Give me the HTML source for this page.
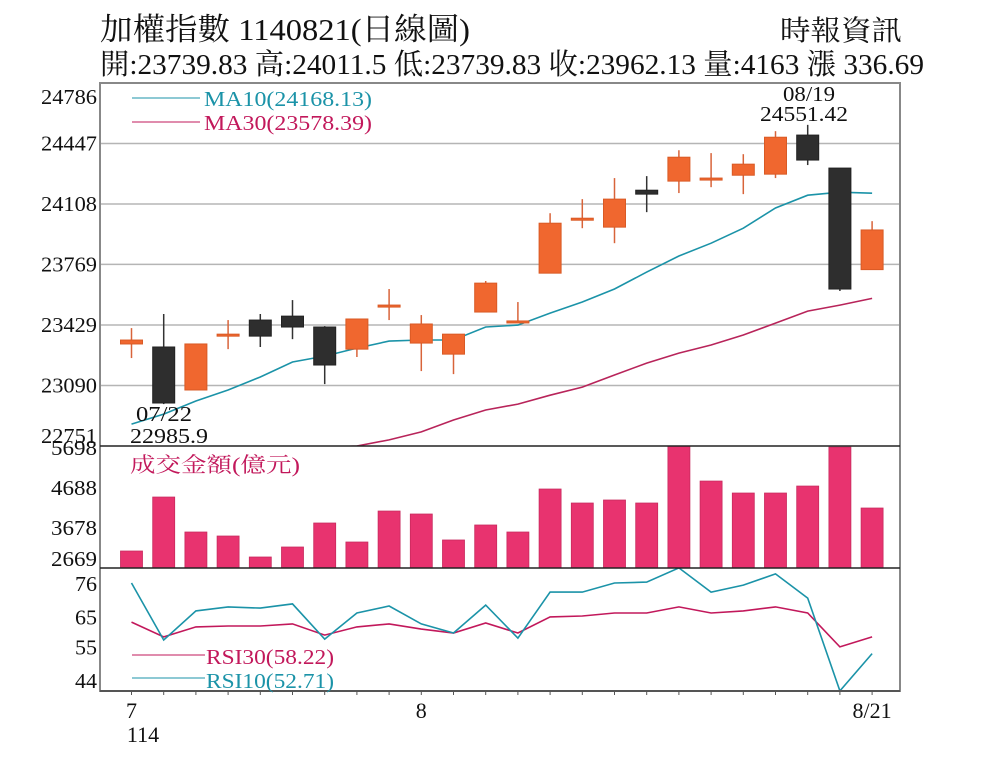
<!DOCTYPE html>
<html><head><meta charset="utf-8"><style>
html,body{margin:0;padding:0;background:#fff;}
svg{display:block;font-family:"Liberation Serif","Noto Serif CJK SC","Noto Sans CJK TC",serif;}
</style></head><body>
<svg id="chart" width="1000" height="770" viewBox="0 0 1000 770" xmlns="http://www.w3.org/2000/svg">
<rect width="1000" height="770" fill="#fff"/>
<text x="100" y="40" font-size="31" textLength="370" lengthAdjust="spacingAndGlyphs" fill="#111">加權指數 1140821(日線圖)</text>
<text x="780" y="40" font-size="28" textLength="122" lengthAdjust="spacingAndGlyphs" fill="#111">時報資訊</text>
<text x="100" y="74" font-size="29" textLength="824" lengthAdjust="spacingAndGlyphs" fill="#111">開:23739.83 高:24011.5 低:23739.83 收:23962.13 量:4163 漲 336.69</text>
<g id="grid"></g>
<g id="marks"></g>
<g id="axes"></g>
<g id="legend">
 <line x1="132" y1="98" x2="200" y2="98" stroke="#1b93a8" stroke-width="1"/>
 <text x="204" y="106" font-size="21" fill="#1b93a8" textLength="168" lengthAdjust="spacingAndGlyphs">MA10(24168.13)</text>
 <line x1="132" y1="122" x2="200" y2="122" stroke="#c2185b" stroke-width="1"/>
 <text x="204" y="130" font-size="21" fill="#c2185b" textLength="168" lengthAdjust="spacingAndGlyphs">MA30(23578.39)</text>
 <text x="130" y="472" font-size="21" fill="#c2185b" textLength="170" lengthAdjust="spacingAndGlyphs">成交金額(億元)</text>
 <line x1="132" y1="655" x2="205" y2="655" stroke="#c2185b" stroke-width="1"/>
 <text x="206" y="664" font-size="21" fill="#c2185b" textLength="128" lengthAdjust="spacingAndGlyphs">RSI30(58.22)</text>
 <line x1="132" y1="678" x2="205" y2="678" stroke="#1b93a8" stroke-width="1"/>
 <text x="206" y="688" font-size="21" fill="#1b93a8" textLength="128" lengthAdjust="spacingAndGlyphs">RSI10(52.71)</text>
 <text x="136" y="421" font-size="21" fill="#111" textLength="56" lengthAdjust="spacingAndGlyphs">07/22</text>
 <text x="130" y="443" font-size="21" fill="#111" textLength="78" lengthAdjust="spacingAndGlyphs">22985.9</text>
 <text x="783" y="101" font-size="21" fill="#111" textLength="52" lengthAdjust="spacingAndGlyphs">08/19</text>
 <text x="760" y="121" font-size="21" fill="#111" textLength="88" lengthAdjust="spacingAndGlyphs">24551.42</text>
</g>
</svg>
<script>
const dates=["07/08","07/09","07/10","07/11","07/14","07/15","07/16","07/17","07/18","07/21","07/22","07/23","07/24","07/25","07/28","07/29","07/30","07/31","08/01","08/04","08/05","08/06","08/07","08/08"];
const opens=[23323,23306,23065,23378,23457,23479,23418,23294,23530,23328,23266,23502,23452,23720,24028,23978,24185,24236,24253,24269,24275,24494,24309,23739.83];
const highs=[23412,23491,23323,23457,23491,23569,23423,23463,23631,23485,23378,23676,23558,24056,24135,24253,24264,24409,24393,24387,24516,24551.42,24309,24011.5];
const lows=[23244,22985.9,23065,23294,23306,23350,23098,23250,23457,23171,23154,23502,23452,23720,23972,23888,24062,24169,24202,24163,24253,24326,23620,23739.83];
const closes=[23345,22992,23323,23378,23367,23418,23205,23463,23541,23435,23378,23664,23452,24000,24028,24135,24163,24370,24253,24331,24482,24354,23631,23962.13];
const ma10=[22874,22930,23003,23065,23138,23222,23255,23300,23339,23345,23345,23418,23429,23496,23558,23631,23726,23816,23888,23972,24085,24157,24174,24168.13];
const ma30=[22600,22630,22660,22690,22710,22730,22745,22751,22785,22830,22897,22953,22986,23036,23081,23149,23216,23272,23317,23373,23440,23507,23541,23578.39];
const volumes=[3073,4434,3552,3451,2922,3174,3779,3300,4081,4006,3351,3729,3552,4636,4283,4359,4283,5745,4837,4535,4535,4711,5694,4157];
const rsi10=[76,57.2,66.8,68.1,67.7,69.1,57.5,66.1,68.4,62.5,59.5,68.7,57.8,73,73,76,76.3,81,73,75.3,79,71,40.4,52.71];
const rsi30=[63.1,58.2,61.5,61.8,61.8,62.5,58.8,61.5,62.5,60.8,59.5,62.8,59.5,64.8,65.1,66.1,66.1,68.1,66.1,66.8,68.1,66.1,54.9,58.22];
const priceTicks=[24786,24447,24108,23769,23429,23090,22751];
const volTicks=[5698,4688,3678,2669];
const rsiTicks=[76,65,55,44];
const xLabels=[{i:0,t:"7"},{i:9,t:"8"},{i:23,t:"8/21"}];

const NS="http://www.w3.org/2000/svg";
const L=100,R=900;
const P={top:83,bot:446,min:22751,max:24786};
const V={top:446,bot:568,min:2645,max:5721};
const S={top:568,bot:691,min:35.4,max:76+(583-568)/3.03};
function xOf(i){return 131.5+i*32.2;}
function yP(v){return P.bot-(v-P.min)/(P.max-P.min)*(P.bot-P.top);}
function yV(v){return V.bot-(v-V.min)/(V.max-V.min)*(V.bot-V.top);}
function yR(v){return 583+(76-v)*3.03;}
function mk(tag,attrs,parent){const e=document.createElementNS(NS,tag);for(const k in attrs)e.setAttribute(k,attrs[k]);parent.appendChild(e);return e;}
const grid=document.getElementById('grid'),marks=document.getElementById('marks'),axes=document.getElementById('axes');

// price gridlines and labels
priceTicks.forEach((v,k)=>{
  const y=yP(v);
  if(k>0&&k<priceTicks.length-1){const g=mk('line',{x1:L,x2:R,y1:y,y2:y,stroke:'#b5b5b5','stroke-width':1.5},grid);
  
  }
  let by=y+7; if(k===0)by=y+21; if(k===priceTicks.length-1)by=y-3;
  const t=mk('text',{x:97,y:by,'font-size':21,'text-anchor':'end',fill:'#111',textLength:56,lengthAdjust:'spacingAndGlyphs'},axes);t.textContent=v;
  
  
});
volTicks.forEach((v,k)=>{
  const y=yV(v);
  let by=y+8; if(k===volTicks.length-1)by=Math.min(by,566);
  const t=mk('text',{x:97,y:by,'font-size':21,'text-anchor':'end',fill:'#111',textLength:46,lengthAdjust:'spacingAndGlyphs'},axes);t.textContent=v;
  
  
});
rsiTicks.forEach(v=>{
  const y=yR(v);
  const t=mk('text',{x:97,y:y+8,'font-size':21,'text-anchor':'end',fill:'#111',textLength:22,lengthAdjust:'spacingAndGlyphs'},axes);t.textContent=v;
  
  
});

// clip for price panel
const defs=mk('defs',{},marks);
const cp=mk('clipPath',{id:'pclip'},defs);mk('rect',{x:L,y:P.top,width:R-L,height:P.bot-P.top},cp);
const cr=mk('clipPath',{id:'rclip'},defs);mk('rect',{x:L,y:S.top,width:R-L,height:S.bot-S.top},cr);

function line(arr,yf,color,name,clip){
  const d=arr.map((v,i)=>(i?'L':'M')+xOf(i).toFixed(1)+' '+yf(v).toFixed(1)).join(' ');
  const p=mk('path',{d:d,fill:'none',stroke:color,'stroke-width':1.6,'clip-path':'url(#'+clip+')'},marks);
  
  
}
line(ma30,yP,'#b8245a','ma30-line','pclip');
line(ma10,yP,'#1b93a8','ma10-line','pclip');

// candles
dates.forEach((d,i)=>{
  const x=xOf(i),up=closes[i]>=opens[i];
  const col=up?'#f0672f':'#2e2e2e';
  const g=mk('g',{},marks);
  
  
  mk('line',{x1:x,x2:x,y1:yP(highs[i]),y2:yP(lows[i]),stroke:up?'#d8643a':'#333','stroke-width':1.5},g);
  const t=Math.min(yP(opens[i]),yP(closes[i])),b=Math.max(yP(opens[i]),yP(closes[i]));
  const h=Math.max(b-t,2);
  mk('rect',{x:x-11,y:t,width:22,height:h,fill:col,stroke:up?'#d95a25':'#222','stroke-width':1},g);
});

// volume bars
volumes.forEach((v,i)=>{
  const y=Math.max(yV(v),V.top);
  const r=mk('rect',{x:xOf(i)-11,y:y,width:22,height:V.bot-y,fill:'#e8336f',stroke:'#c82a5e','stroke-width':0.8},marks);
  
  
});

line(rsi30,yR,'#c2185b','rsi30-line','rclip');
line(rsi10,yR,'#1b93a8','rsi10-line','rclip');

// frame
const fr=mk('rect',{x:L,y:P.top,width:R-L,height:S.bot-P.top,fill:'none',stroke:'#888','stroke-width':2},axes);


[V.top,V.bot].forEach(y=>{const l=mk('line',{x1:L,x2:R,y1:y,y2:y,stroke:'#222','stroke-width':1.6},axes);
  
  });
const xb=mk('line',{x1:L,x2:R,y1:S.bot,y2:S.bot,stroke:'#555','stroke-width':2},axes);


dates.forEach((d,i)=>{const t=mk('line',{x1:xOf(i),x2:xOf(i),y1:S.bot,y2:S.bot+4,stroke:'#555','stroke-width':1},axes);
  
  });
xLabels.forEach(o=>{
  const t=mk('text',{x:xOf(o.i),y:718,'font-size':22,'text-anchor':'middle',fill:'#111'},axes);t.textContent=o.t;
  
  
});
const yr=mk('text',{x:143,y:742,'font-size':22,'text-anchor':'middle',fill:'#111'},axes);yr.textContent='114';


</script>
</body></html>
